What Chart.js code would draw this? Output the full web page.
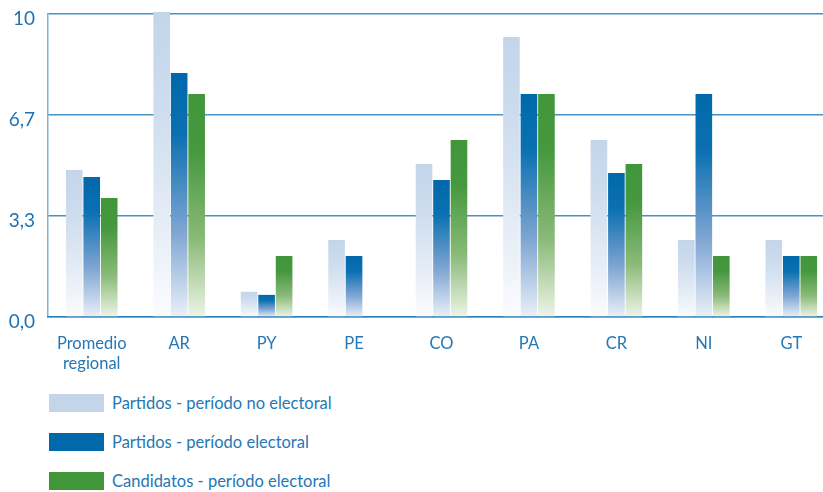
<!DOCTYPE html>
<html>
<head>
<meta charset="utf-8">
<script src="https://cdn.jsdelivr.net/npm/chart.js@4/dist/chart.umd.min.js"></script>
<style>
    html, body { margin: 0; padding: 0; background: #fff; overflow: hidden; width: 823px; height: 492px; }
    #wrap { position: absolute; left: 0; top: 0; width: 835px; height: 377px; }
    #legend { position: absolute; left: 49px; top: 394px; font-family: Lato, sans-serif; font-size: 16.5px; color: #2577b5; }
    .item { display: flex; align-items: center; height: 18px; margin-bottom: 21px; }
    .box { width: 55px; height: 18px; margin-right: 8px; }
</style>
</head>
<body>
<div id="wrap"><canvas id="chart"></canvas></div>
<div id="legend"></div>
<script>
const categories = [["Promedio", "regional"], "AR", "PY", "PE", "CO", "PA", "CR", "NI", "GT"];
const partidosNoElectoral = [4.85, 10.07, 0.83, 2.54, 5.05, 9.24, 5.84, 2.54, 2.54];
const partidosElectoral = [4.62, 8.05, 0.73, 2.01, 4.52, 7.36, 4.75, 7.36, 2.01];
const candidatosElectoral = [3.93, 7.36, 2.01, 0, 5.84, 7.36, 5.05, 2.01, 2.01];
const yTickValues = [0, 3.333, 6.667, 10];
const yTickLabels = ["0,0", "3,3", "6,7", "10"];
const seriesNames = ["Partidos - período no electoral", "Partidos - período electoral", "Candidatos - período electoral"];
const seriesColors = ["#c4d5ea", "#0069aa", "#41963a"];

// vertical fade per bar, solid at the top, almost white at the base
function barFill(stops) {
    return function (ctx) {
        const chart = ctx.chart;
        if (!chart.chartArea || ctx.type !== "data") return stops[0][1];
        const y = chart.scales.y;
        const top = y.getPixelForValue(ctx.parsed.y);
        const bottom = y.getPixelForValue(0);
        if (bottom - top < 1) return stops[0][1];
        const g = chart.ctx.createLinearGradient(0, top, 0, bottom);
        stops.forEach(s => g.addColorStop(s[0], s[1]));
        return g;
    };
}

const fills = [
    barFill([[0, "#c4d5ea"], [0.3, "#cddcee"], [0.7, "#e6edf6"], [1, "#fbfcfe"]]),
    barFill([[0, "#0069aa"], [0.25, "#0b70b1"], [0.65, "#7fa5d2"], [1, "#eaf0f8"]]),
    barFill([[0, "#41963a"], [0.25, "#45983e"], [0.65, "#8aba78"], [1, "#eef4e8"]]),
];

const datasets = [partidosNoElectoral, partidosElectoral, candidatosElectoral].map((data, i) => ({
    label: seriesNames[i],
    data: data,
    backgroundColor: fills[i],
    borderWidth: 0,
    categoryPercentage: 0.6,
    barPercentage: 0.95,
    clip: false,
}));

const axisBlue = "rgba(38,128,190,0.85)";

new Chart(document.getElementById("chart"), {
    type: "bar",
    data: { labels: categories, datasets: datasets },
    options: {
        responsive: true,
        maintainAspectRatio: false,
        animation: false,
        layout: { padding: 0 },
        plugins: { legend: { display: false }, tooltip: { enabled: false } },
        scales: {
            x: {
                grid: { display: false },
                border: { display: true, color: axisBlue, width: 1.5 },
                ticks: {
                    color: "#2577b5",
                    font: { family: "Lato", size: 16.5 },
                    padding: 9,
                    maxRotation: 0,
                    autoSkip: false,
                },
                afterFit: function (scale) { scale.height = 60; },
            },
            y: {
                min: 0,
                max: 10,
                afterBuildTicks: function (scale) {
                    scale.ticks = yTickValues.map(v => ({ value: v }));
                },
                afterFit: function (scale) {
                    scale.width = 48;
                    scale.paddingTop = 14;
                    scale.paddingBottom = 0;
                },
                grid: { color: axisBlue, lineWidth: 1.5, drawTicks: false },
                border: { display: true, color: "rgba(38,128,190,0.6)", width: 1.5 },
                ticks: {
                    color: "#1f72b4",
                    font: { family: "Lato", size: 19 },
                    padding: 13,
                    labelOffset: 5,
                    callback: function (value, index) { return yTickLabels[index]; },
                },
            },
        },
    },
});

const legend = document.getElementById("legend");
seriesNames.forEach((name, i) => {
    const item = document.createElement("div");
    item.className = "item";
    item.innerHTML = '<span class="box" style="background:' + seriesColors[i] + '"></span><span>' + name + '</span>';
    legend.appendChild(item);
});
</script>
</body>
</html>
